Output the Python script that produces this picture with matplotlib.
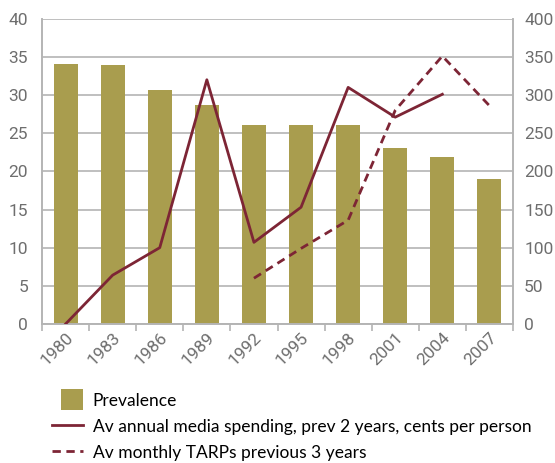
import matplotlib
matplotlib.use('Agg')
import matplotlib.pyplot as plt
from matplotlib.patches import Patch, Rectangle
from matplotlib.lines import Line2D
from matplotlib.legend_handler import HandlerPatch
import numpy as np

years = ["1980", "1983", "1986", "1989", "1992", "1995", "1998", "2001", "2004", "2007"]
prevalence = [34.1, 33.9, 30.7, 28.7, 26.1, 26.1, 26.1, 23.1, 21.9, 19.0]
media_spending = [0, 64, 100, 320, 107, 153, 310, 271, 301, None]
tarps = [None, None, None, None, 60, 99, 136, 280, 351, 286]

BAR_COLOR = "#A99D4E"
LINE_COLOR = "#7D2535"
GRID_COLOR = "#B4B4B4"
TICK_COLOR = "#6E6E6E"

plt.rcParams['font.family'] = ['Roboto', 'DejaVu Sans']


class SquareHandler(HandlerPatch):
    # shorter, taller box than the default legend patch
    def create_artists(self, legend, orig_handle, xdescent, ydescent,
                       width, height, fontsize, trans):
        w = width * 0.72
        h = height * 1.35
        p = Rectangle((width - w - xdescent, -ydescent - (h - height) / 2), w, h,
                      facecolor=orig_handle.get_facecolor(), edgecolor='none',
                      transform=trans)
        return [p]


fig = plt.figure(figsize=(5.55, 4.63), dpi=100)
ax = fig.add_axes([42 / 555, 1 - 324 / 463, (513 - 42) / 555, (324 - 18.7) / 463])
x = np.arange(len(years))

ax.bar(x, prevalence, width=0.51, color=BAR_COLOR, zorder=2)
ax.set_xlim(-0.5, len(years) - 0.5)
ax.set_ylim(0, 40)
ax.set_yticks(range(0, 41, 5))
ax.yaxis.grid(True, color=GRID_COLOR, linewidth=1.2, zorder=0)
ax.set_axisbelow(True)

ax2 = ax.twinx()
ms = np.array([np.nan if v is None else v for v in media_spending], dtype=float)
tp = np.array([np.nan if v is None else v for v in tarps], dtype=float)
ax2.plot(x, ms, color=LINE_COLOR, linewidth=2, zorder=3)
ax2.plot(x, tp, color=LINE_COLOR, linewidth=2, linestyle=(0, (3, 2)), zorder=3)
ax2.set_ylim(0, 400)
ax2.set_yticks(range(0, 401, 50))

# category separators on the x axis, year labels centred under bars
ax.set_xticks(np.arange(len(years) + 1) - 0.5, minor=False)
ax.set_xticklabels([])
ax.tick_params(axis='x', which='major', length=5, color=GRID_COLOR, width=1.2)
ax.set_xticks(x, minor=True)
ax.set_xticklabels(years, minor=True, rotation=45, ha='right', rotation_mode='anchor',
                   fontsize=12.5, color=TICK_COLOR)
ax.tick_params(axis='x', which='minor', length=0, pad=4)

for a in (ax, ax2):
    for side in ('left', 'right', 'bottom', 'top'):
        a.spines[side].set_color(GRID_COLOR)
        a.spines[side].set_linewidth(1.2)
    a.spines['top'].set_visible(False)
ax.tick_params(axis='y', length=0, labelsize=12.5, labelcolor=TICK_COLOR, pad=10)
ax2.tick_params(axis='y', length=0, labelsize=12.5, labelcolor=TICK_COLOR, pad=8)

handles = [
    Patch(color=BAR_COLOR, label="Prevalence"),
    Line2D([], [], color=LINE_COLOR, linewidth=2,
           label="Av annual media spending, prev 2 years, cents per person"),
    Line2D([], [], color=LINE_COLOR, linewidth=2, linestyle=(0, (3, 2)),
           label="Av monthly TARPs previous 3 years"),
]
fig.legend(handles=handles, loc='upper left', bbox_to_anchor=(52 / 555, 1 - 392 / 463),
           frameon=False, prop={'family': 'Lato', 'size': 12.5},
           handlelength=1.8, handleheight=1.0, labelspacing=0.55, handletextpad=0.55,
           borderpad=0, borderaxespad=0,
           handler_map={Patch: SquareHandler()})

fig.savefig("out.png", dpi=100)
